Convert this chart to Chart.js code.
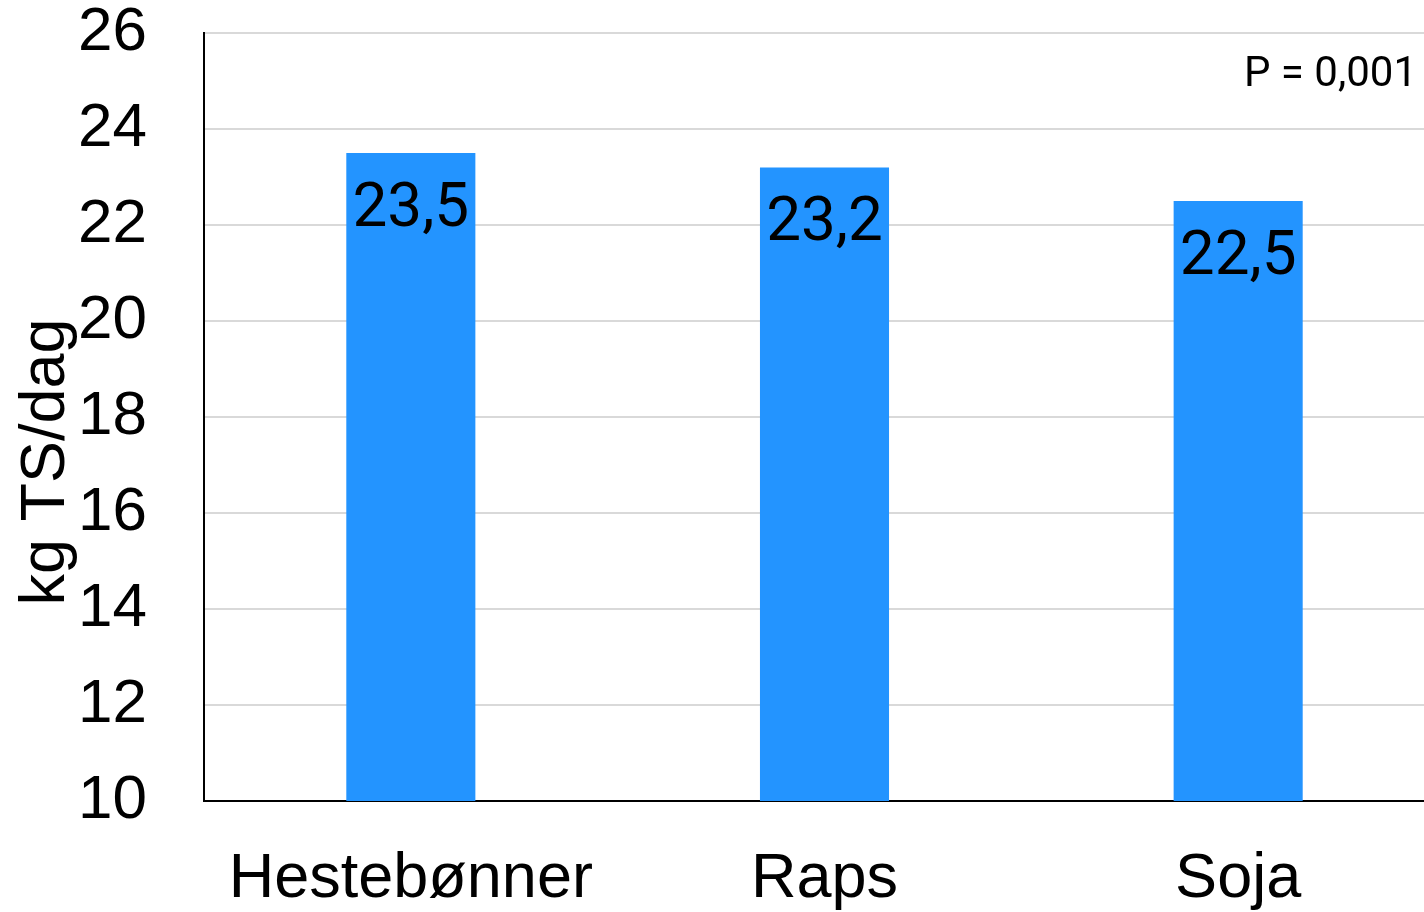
<!DOCTYPE html>
<html>
<head>
<meta charset="utf-8">
<script src="https://cdn.jsdelivr.net/npm/chart.js@4.4.1/dist/chart.umd.min.js"></script>
<style>
  html, body { margin: 0; padding: 0; background: #fff; overflow: hidden; }
  #wrap { width: 1470px; height: 912px; }
</style>
</head>
<body>
<div id="wrap"><canvas id="myChart"></canvas></div>
<script>
// data
const categories = ["Hestebønner", "Raps", "Soja"];
const values = [23.5, 23.2, 22.5];
const valueLabels = ["23,5", "23,2", "22,5"];
const yTitle = "kg TS/dag";
const pNote = "P = 0,001";

const barColor = "#2394FF";

// labels inside the bars, the p-value and the axis title
const extraText = {
  id: "extraText",
  afterDatasetsDraw(chart) {
    const ctx = chart.ctx;
    const meta = chart.getDatasetMeta(0);
    ctx.save();
    ctx.fillStyle = "#000";
    ctx.font = "62px Roboto";
    ctx.textAlign = "center";
    ctx.textBaseline = "middle";
    meta.data.forEach(function (bar, i) {
      ctx.fillText(valueLabels[i], bar.x, bar.y + 57);
    });

    ctx.font = "42px Roboto";
    ctx.textAlign = "right";
    ctx.fillText(pNote, 1417, 75);

    ctx.translate(64, 462);
    ctx.rotate(-Math.PI / 2);
    ctx.font = "63px 'Liberation Sans'";
    ctx.textAlign = "center";
    ctx.textBaseline = "alphabetic";
    ctx.fillText(yTitle, 0, 0);
    ctx.restore();
  }
};

const data = {
  labels: categories,
  datasets: [
    {
      data: values,
      backgroundColor: barColor,
      barPercentage: 0.312,
      categoryPercentage: 1.0,
    },
  ],
};

const config = {
  type: "bar",
  data: data,
  plugins: [extraText],
  options: {
    responsive: true,
    maintainAspectRatio: false,
    animation: false,
    layout: { padding: { top: 33, right: 25, left: 0, bottom: 0 } },
    plugins: {
      legend: false,
      tooltip: { enabled: false },
    },
    scales: {
      x: {
        grid: { display: false, drawTicks: false },
        border: { color: "#000", width: 2 },
        ticks: {
          color: "#000",
          padding: 41,
          font: { family: "Liberation Sans", size: 63, lineHeight: 1.2 },
        },
        afterFit: function (scale) { scale.height = 111; },
      },
      y: {
        min: 10,
        max: 26,
        grid: { color: "#d9d9d9", lineWidth: 2, tickLength: 57, tickColor: "rgba(0,0,0,0)" },
        border: { color: "#000", width: 2 },
        ticks: {
          stepSize: 2,
          color: "#000",
          padding: 0,
          font: { family: "Liberation Sans", size: 62, lineHeight: 1 },
        },
        afterFit: function (scale) { scale.width = 204; },
      },
    },
  },
};

const context = document.getElementById("myChart").getContext("2d");
const chart = new Chart(context, config);
</script>
</body>
</html>
